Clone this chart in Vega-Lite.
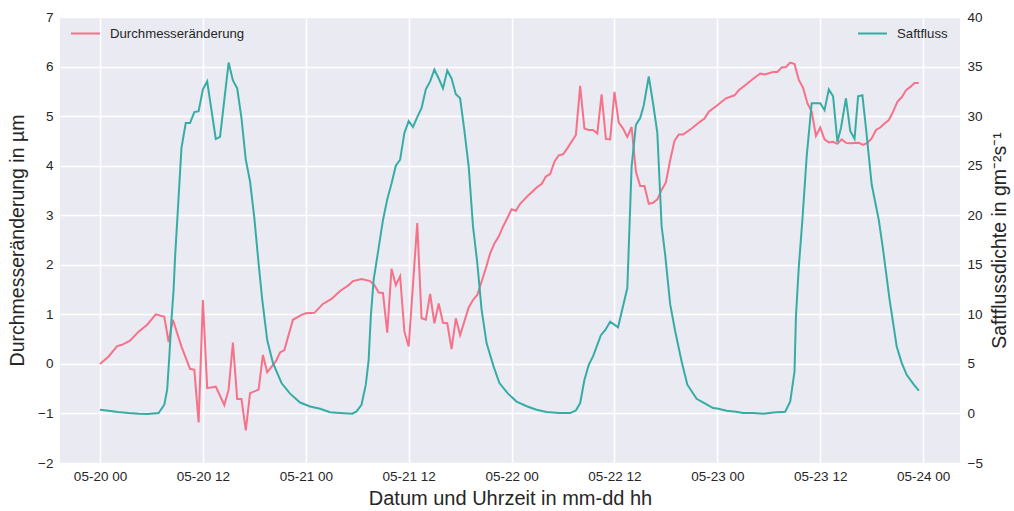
{
  "$schema": "https://vega.github.io/schema/vega-lite/v6.json",
  "width": 900,
  "height": 446,
  "autosize": {"type": "none"},
  "padding": {"left": 60, "top": 17, "right": 54, "bottom": 48},
  "background": "white",
  "datasets": {
    "durchmesser": [
      {"t": "2023-05-20T00:00", "v": 0.0},
      {"t": "2023-05-20T01:00", "v": 0.15},
      {"t": "2023-05-20T02:00", "v": 0.36},
      {"t": "2023-05-20T02:30", "v": 0.38},
      {"t": "2023-05-20T03:30", "v": 0.47},
      {"t": "2023-05-20T04:30", "v": 0.65},
      {"t": "2023-05-20T05:30", "v": 0.79},
      {"t": "2023-05-20T06:30", "v": 1.0},
      {"t": "2023-05-20T07:30", "v": 0.95},
      {"t": "2023-05-20T08:00", "v": 0.44},
      {"t": "2023-05-20T08:30", "v": 0.89},
      {"t": "2023-05-20T09:30", "v": 0.35},
      {"t": "2023-05-20T10:30", "v": -0.1},
      {"t": "2023-05-20T11:00", "v": -0.12},
      {"t": "2023-05-20T11:30", "v": -1.18},
      {"t": "2023-05-20T12:00", "v": 1.29},
      {"t": "2023-05-20T12:30", "v": -0.49},
      {"t": "2023-05-20T13:30", "v": -0.46},
      {"t": "2023-05-20T14:30", "v": -0.83},
      {"t": "2023-05-20T15:00", "v": -0.52},
      {"t": "2023-05-20T15:30", "v": 0.43},
      {"t": "2023-05-20T16:00", "v": -0.71},
      {"t": "2023-05-20T16:30", "v": -0.71},
      {"t": "2023-05-20T17:00", "v": -1.34},
      {"t": "2023-05-20T17:30", "v": -0.59},
      {"t": "2023-05-20T18:30", "v": -0.52},
      {"t": "2023-05-20T19:00", "v": 0.18},
      {"t": "2023-05-20T19:30", "v": -0.17},
      {"t": "2023-05-20T20:30", "v": 0.05},
      {"t": "2023-05-20T21:00", "v": 0.23},
      {"t": "2023-05-20T21:30", "v": 0.28},
      {"t": "2023-05-20T22:30", "v": 0.89},
      {"t": "2023-05-20T23:30", "v": 0.99},
      {"t": "2023-05-21T00:00", "v": 1.02},
      {"t": "2023-05-21T01:00", "v": 1.03},
      {"t": "2023-05-21T02:00", "v": 1.21},
      {"t": "2023-05-21T03:00", "v": 1.31},
      {"t": "2023-05-21T04:00", "v": 1.47},
      {"t": "2023-05-21T05:00", "v": 1.59},
      {"t": "2023-05-21T05:30", "v": 1.67},
      {"t": "2023-05-21T06:30", "v": 1.71},
      {"t": "2023-05-21T07:30", "v": 1.67},
      {"t": "2023-05-21T08:00", "v": 1.59},
      {"t": "2023-05-21T08:30", "v": 1.44},
      {"t": "2023-05-21T09:00", "v": 1.43},
      {"t": "2023-05-21T09:30", "v": 0.63},
      {"t": "2023-05-21T10:00", "v": 1.92},
      {"t": "2023-05-21T10:30", "v": 1.59},
      {"t": "2023-05-21T11:00", "v": 1.77},
      {"t": "2023-05-21T11:30", "v": 0.65},
      {"t": "2023-05-21T12:00", "v": 0.35},
      {"t": "2023-05-21T13:00", "v": 2.84},
      {"t": "2023-05-21T13:30", "v": 0.92},
      {"t": "2023-05-21T14:00", "v": 0.89},
      {"t": "2023-05-21T14:30", "v": 1.41},
      {"t": "2023-05-21T15:00", "v": 0.82},
      {"t": "2023-05-21T15:30", "v": 1.22},
      {"t": "2023-05-21T16:00", "v": 0.83},
      {"t": "2023-05-21T16:30", "v": 0.82},
      {"t": "2023-05-21T17:00", "v": 0.3},
      {"t": "2023-05-21T17:30", "v": 0.92},
      {"t": "2023-05-21T18:00", "v": 0.58},
      {"t": "2023-05-21T19:00", "v": 1.14},
      {"t": "2023-05-21T19:30", "v": 1.29},
      {"t": "2023-05-21T20:00", "v": 1.39},
      {"t": "2023-05-21T21:00", "v": 1.93},
      {"t": "2023-05-21T21:30", "v": 2.23},
      {"t": "2023-05-21T22:00", "v": 2.43},
      {"t": "2023-05-21T22:30", "v": 2.57},
      {"t": "2023-05-21T23:00", "v": 2.77},
      {"t": "2023-05-21T23:30", "v": 2.94},
      {"t": "2023-05-22T00:00", "v": 3.12},
      {"t": "2023-05-22T00:30", "v": 3.09},
      {"t": "2023-05-22T01:00", "v": 3.23},
      {"t": "2023-05-22T02:00", "v": 3.41},
      {"t": "2023-05-22T03:00", "v": 3.57},
      {"t": "2023-05-22T03:30", "v": 3.63},
      {"t": "2023-05-22T04:00", "v": 3.78},
      {"t": "2023-05-22T04:30", "v": 3.83},
      {"t": "2023-05-22T05:00", "v": 4.08},
      {"t": "2023-05-22T05:30", "v": 4.21},
      {"t": "2023-05-22T06:00", "v": 4.23},
      {"t": "2023-05-22T06:30", "v": 4.35},
      {"t": "2023-05-22T07:30", "v": 4.62},
      {"t": "2023-05-22T08:00", "v": 5.61},
      {"t": "2023-05-22T08:30", "v": 4.75},
      {"t": "2023-05-22T09:00", "v": 4.72},
      {"t": "2023-05-22T09:30", "v": 4.72},
      {"t": "2023-05-22T10:00", "v": 4.65},
      {"t": "2023-05-22T10:30", "v": 5.44},
      {"t": "2023-05-22T11:00", "v": 4.54},
      {"t": "2023-05-22T11:30", "v": 4.53},
      {"t": "2023-05-22T12:00", "v": 5.49},
      {"t": "2023-05-22T12:30", "v": 4.87},
      {"t": "2023-05-22T13:00", "v": 4.75},
      {"t": "2023-05-22T13:30", "v": 4.58},
      {"t": "2023-05-22T14:00", "v": 4.78},
      {"t": "2023-05-22T14:30", "v": 3.88},
      {"t": "2023-05-22T15:00", "v": 3.59},
      {"t": "2023-05-22T15:30", "v": 3.59},
      {"t": "2023-05-22T16:00", "v": 3.23},
      {"t": "2023-05-22T16:30", "v": 3.25},
      {"t": "2023-05-22T17:00", "v": 3.32},
      {"t": "2023-05-22T17:30", "v": 3.51},
      {"t": "2023-05-22T18:00", "v": 3.66},
      {"t": "2023-05-22T18:30", "v": 4.11},
      {"t": "2023-05-22T19:00", "v": 4.5},
      {"t": "2023-05-22T19:30", "v": 4.63},
      {"t": "2023-05-22T20:00", "v": 4.63},
      {"t": "2023-05-22T21:00", "v": 4.75},
      {"t": "2023-05-22T22:00", "v": 4.89},
      {"t": "2023-05-22T22:30", "v": 4.95},
      {"t": "2023-05-22T23:00", "v": 5.09},
      {"t": "2023-05-23T00:00", "v": 5.22},
      {"t": "2023-05-23T01:00", "v": 5.36},
      {"t": "2023-05-23T02:00", "v": 5.42},
      {"t": "2023-05-23T02:30", "v": 5.52},
      {"t": "2023-05-23T03:30", "v": 5.66},
      {"t": "2023-05-23T04:00", "v": 5.73},
      {"t": "2023-05-23T05:00", "v": 5.86},
      {"t": "2023-05-23T05:30", "v": 5.84},
      {"t": "2023-05-23T06:30", "v": 5.89},
      {"t": "2023-05-23T07:00", "v": 5.89},
      {"t": "2023-05-23T07:30", "v": 5.98},
      {"t": "2023-05-23T08:00", "v": 5.99},
      {"t": "2023-05-23T08:30", "v": 6.08},
      {"t": "2023-05-23T09:00", "v": 6.05},
      {"t": "2023-05-23T09:30", "v": 5.73},
      {"t": "2023-05-23T10:00", "v": 5.57},
      {"t": "2023-05-23T10:30", "v": 5.26},
      {"t": "2023-05-23T11:00", "v": 5.09},
      {"t": "2023-05-23T11:30", "v": 4.6},
      {"t": "2023-05-23T12:00", "v": 4.77},
      {"t": "2023-05-23T12:30", "v": 4.53},
      {"t": "2023-05-23T13:00", "v": 4.47},
      {"t": "2023-05-23T13:30", "v": 4.48},
      {"t": "2023-05-23T14:00", "v": 4.44},
      {"t": "2023-05-23T14:30", "v": 4.53},
      {"t": "2023-05-23T15:00", "v": 4.46},
      {"t": "2023-05-23T15:30", "v": 4.45},
      {"t": "2023-05-23T16:30", "v": 4.46},
      {"t": "2023-05-23T17:00", "v": 4.42},
      {"t": "2023-05-23T17:30", "v": 4.46},
      {"t": "2023-05-23T18:00", "v": 4.55},
      {"t": "2023-05-23T18:30", "v": 4.72},
      {"t": "2023-05-23T19:00", "v": 4.77},
      {"t": "2023-05-23T19:30", "v": 4.85},
      {"t": "2023-05-23T20:00", "v": 4.92},
      {"t": "2023-05-23T20:30", "v": 5.09},
      {"t": "2023-05-23T21:00", "v": 5.29},
      {"t": "2023-05-23T21:30", "v": 5.38},
      {"t": "2023-05-23T22:00", "v": 5.52},
      {"t": "2023-05-23T22:30", "v": 5.59},
      {"t": "2023-05-23T23:00", "v": 5.67},
      {"t": "2023-05-23T23:30", "v": 5.67}
    ],
    "saftfluss": [
      {"t": "2023-05-20T00:00", "v": 0.37},
      {"t": "2023-05-20T01:00", "v": 0.27},
      {"t": "2023-05-20T02:05", "v": 0.14},
      {"t": "2023-05-20T03:20", "v": 0.04},
      {"t": "2023-05-20T04:30", "v": -0.03},
      {"t": "2023-05-20T05:35", "v": -0.06},
      {"t": "2023-05-20T06:50", "v": 0.04},
      {"t": "2023-05-20T07:30", "v": 0.88},
      {"t": "2023-05-20T07:50", "v": 2.4},
      {"t": "2023-05-20T08:05", "v": 5.75},
      {"t": "2023-05-20T08:20", "v": 9.46},
      {"t": "2023-05-20T08:35", "v": 12.5},
      {"t": "2023-05-20T08:45", "v": 15.7},
      {"t": "2023-05-20T09:05", "v": 20.6},
      {"t": "2023-05-20T09:30", "v": 26.8},
      {"t": "2023-05-20T10:00", "v": 29.3},
      {"t": "2023-05-20T10:30", "v": 29.3},
      {"t": "2023-05-20T11:00", "v": 30.4},
      {"t": "2023-05-20T11:30", "v": 30.5},
      {"t": "2023-05-20T12:00", "v": 32.7},
      {"t": "2023-05-20T12:30", "v": 33.5},
      {"t": "2023-05-20T13:30", "v": 27.7},
      {"t": "2023-05-20T14:00", "v": 27.9},
      {"t": "2023-05-20T15:00", "v": 35.4},
      {"t": "2023-05-20T15:30", "v": 33.6},
      {"t": "2023-05-20T16:00", "v": 32.8},
      {"t": "2023-05-20T16:30", "v": 29.8},
      {"t": "2023-05-20T17:00", "v": 25.6},
      {"t": "2023-05-20T17:30", "v": 23.4},
      {"t": "2023-05-20T18:00", "v": 19.7},
      {"t": "2023-05-20T18:30", "v": 15.1},
      {"t": "2023-05-20T18:55", "v": 11.5},
      {"t": "2023-05-20T19:30", "v": 7.4},
      {"t": "2023-05-20T20:10", "v": 5.1},
      {"t": "2023-05-20T21:10", "v": 3.07},
      {"t": "2023-05-20T22:10", "v": 2.0},
      {"t": "2023-05-20T23:20", "v": 1.1},
      {"t": "2023-05-21T00:30", "v": 0.7},
      {"t": "2023-05-21T01:40", "v": 0.47},
      {"t": "2023-05-21T02:50", "v": 0.12},
      {"t": "2023-05-21T04:00", "v": 0.04},
      {"t": "2023-05-21T05:25", "v": -0.03},
      {"t": "2023-05-21T05:55", "v": 0.2},
      {"t": "2023-05-21T06:30", "v": 0.88},
      {"t": "2023-05-21T07:00", "v": 2.9},
      {"t": "2023-05-21T07:20", "v": 5.4},
      {"t": "2023-05-21T07:35", "v": 9.8},
      {"t": "2023-05-21T07:55", "v": 13.5},
      {"t": "2023-05-21T08:20", "v": 15.8},
      {"t": "2023-05-21T09:00", "v": 19.5},
      {"t": "2023-05-21T09:30", "v": 21.6},
      {"t": "2023-05-21T10:00", "v": 23.2},
      {"t": "2023-05-21T10:30", "v": 25.0},
      {"t": "2023-05-21T11:00", "v": 25.6},
      {"t": "2023-05-21T11:30", "v": 28.3},
      {"t": "2023-05-21T12:00", "v": 29.5},
      {"t": "2023-05-21T12:30", "v": 28.9},
      {"t": "2023-05-21T13:00", "v": 29.9},
      {"t": "2023-05-21T13:30", "v": 30.8},
      {"t": "2023-05-21T14:00", "v": 32.7},
      {"t": "2023-05-21T14:30", "v": 33.5},
      {"t": "2023-05-21T15:00", "v": 34.7},
      {"t": "2023-05-21T15:30", "v": 33.8},
      {"t": "2023-05-21T16:00", "v": 32.8},
      {"t": "2023-05-21T16:30", "v": 34.6},
      {"t": "2023-05-21T17:00", "v": 33.8},
      {"t": "2023-05-21T17:30", "v": 32.2},
      {"t": "2023-05-21T18:00", "v": 31.8},
      {"t": "2023-05-21T18:30", "v": 28.5},
      {"t": "2023-05-21T19:00", "v": 24.9},
      {"t": "2023-05-21T19:30", "v": 18.9},
      {"t": "2023-05-21T20:00", "v": 15.2},
      {"t": "2023-05-21T20:30", "v": 10.5},
      {"t": "2023-05-21T21:05", "v": 7.1},
      {"t": "2023-05-21T21:55", "v": 4.7},
      {"t": "2023-05-21T22:35", "v": 3.07},
      {"t": "2023-05-21T23:35", "v": 2.0},
      {"t": "2023-05-22T00:35", "v": 1.2},
      {"t": "2023-05-22T01:50", "v": 0.7},
      {"t": "2023-05-22T02:55", "v": 0.37},
      {"t": "2023-05-22T04:05", "v": 0.14},
      {"t": "2023-05-22T05:35", "v": 0.04},
      {"t": "2023-05-22T06:50", "v": 0.04},
      {"t": "2023-05-22T07:30", "v": 0.3},
      {"t": "2023-05-22T08:00", "v": 1.05},
      {"t": "2023-05-22T08:30", "v": 3.4},
      {"t": "2023-05-22T09:00", "v": 4.9},
      {"t": "2023-05-22T09:30", "v": 5.75},
      {"t": "2023-05-22T10:25", "v": 7.9},
      {"t": "2023-05-22T10:55", "v": 8.4},
      {"t": "2023-05-22T11:30", "v": 9.25},
      {"t": "2023-05-22T12:25", "v": 8.7},
      {"t": "2023-05-22T13:30", "v": 12.65},
      {"t": "2023-05-22T14:00", "v": 24.9},
      {"t": "2023-05-22T14:30", "v": 29.1},
      {"t": "2023-05-22T15:00", "v": 29.8},
      {"t": "2023-05-22T15:25", "v": 31.1},
      {"t": "2023-05-22T16:00", "v": 34.0},
      {"t": "2023-05-22T16:30", "v": 31.3},
      {"t": "2023-05-22T17:00", "v": 28.3},
      {"t": "2023-05-22T17:30", "v": 18.9},
      {"t": "2023-05-22T17:55", "v": 16.0},
      {"t": "2023-05-22T18:30", "v": 11.0},
      {"t": "2023-05-22T19:05", "v": 8.3},
      {"t": "2023-05-22T19:50", "v": 5.25},
      {"t": "2023-05-22T20:30", "v": 2.9},
      {"t": "2023-05-22T21:35", "v": 1.48},
      {"t": "2023-05-22T22:35", "v": 0.98},
      {"t": "2023-05-22T23:30", "v": 0.54},
      {"t": "2023-05-23T00:00", "v": 0.5},
      {"t": "2023-05-23T01:05", "v": 0.27},
      {"t": "2023-05-23T02:10", "v": 0.17},
      {"t": "2023-05-23T03:00", "v": 0.04},
      {"t": "2023-05-23T04:10", "v": 0.04},
      {"t": "2023-05-23T05:25", "v": -0.03},
      {"t": "2023-05-23T06:30", "v": 0.1},
      {"t": "2023-05-23T07:55", "v": 0.17},
      {"t": "2023-05-23T08:30", "v": 1.2},
      {"t": "2023-05-23T09:00", "v": 4.24},
      {"t": "2023-05-23T09:10", "v": 9.8},
      {"t": "2023-05-23T09:30", "v": 14.8},
      {"t": "2023-05-23T09:55", "v": 19.5},
      {"t": "2023-05-23T10:25", "v": 25.9},
      {"t": "2023-05-23T11:00", "v": 31.3},
      {"t": "2023-05-23T12:00", "v": 31.3},
      {"t": "2023-05-23T12:30", "v": 30.6},
      {"t": "2023-05-23T13:00", "v": 32.7},
      {"t": "2023-05-23T13:30", "v": 32.0},
      {"t": "2023-05-23T14:00", "v": 27.4},
      {"t": "2023-05-23T14:25", "v": 28.8},
      {"t": "2023-05-23T15:00", "v": 31.8},
      {"t": "2023-05-23T15:30", "v": 28.5},
      {"t": "2023-05-23T16:00", "v": 27.7},
      {"t": "2023-05-23T16:25", "v": 32.0},
      {"t": "2023-05-23T16:55", "v": 32.1},
      {"t": "2023-05-23T17:25", "v": 28.1},
      {"t": "2023-05-23T18:00", "v": 23.1},
      {"t": "2023-05-23T18:50", "v": 19.5},
      {"t": "2023-05-23T19:20", "v": 16.5},
      {"t": "2023-05-23T20:05", "v": 11.5},
      {"t": "2023-05-23T20:55", "v": 6.76},
      {"t": "2023-05-23T21:30", "v": 5.1},
      {"t": "2023-05-23T22:05", "v": 3.9},
      {"t": "2023-05-23T22:55", "v": 2.9},
      {"t": "2023-05-23T23:30", "v": 2.3}
    ]
  },
  "layer": [
    {
      "data": {"name": "durchmesser"},
      "mark": {"type": "line", "strokeWidth": 2, "clip": true},
      "encoding": {
        "x": {
          "field": "t",
          "type": "temporal",
          "scale": {
            "domain": [
              {"year": 2023, "month": "may", "date": 19, "hours": 19, "minutes": 20},
              {"year": 2023, "month": "may", "date": 24, "hours": 4, "minutes": 18}
            ]
          },
          "axis": {
            "format": "%m-%d %H",
            "values": [
              {"year": 2023, "month": "may", "date": 20, "hours": 0},
              {"year": 2023, "month": "may", "date": 20, "hours": 12},
              {"year": 2023, "month": "may", "date": 21, "hours": 0},
              {"year": 2023, "month": "may", "date": 21, "hours": 12},
              {"year": 2023, "month": "may", "date": 22, "hours": 0},
              {"year": 2023, "month": "may", "date": 22, "hours": 12},
              {"year": 2023, "month": "may", "date": 23, "hours": 0},
              {"year": 2023, "month": "may", "date": 23, "hours": 12},
              {"year": 2023, "month": "may", "date": 24, "hours": 0}
            ],
            "labelPadding": 6,
            "title": "Datum und Uhrzeit in mm-dd hh",
            "titleFontSize": 20,
            "titlePadding": 6
          }
        },
        "y": {
          "field": "v",
          "type": "quantitative",
          "scale": {"domain": [-2, 7], "nice": false, "zero": false},
          "axis": {
            "orient": "left",
            "values": [-2, -1, 0, 1, 2, 3, 4, 5, 6, 7],
            "format": "d",
            "labelPadding": 7,
            "title": "Durchmesseränderung in µm",
            "titlePadding": 10
          }
        },
        "color": {
          "datum": "Durchmesseränderung",
          "scale": {"range": ["#f77189"]},
          "legend": {"orient": "none", "legendX": 10, "legendY": 1, "title": null}
        }
      }
    },
    {
      "data": {"name": "saftfluss"},
      "mark": {"type": "line", "strokeWidth": 2, "clip": true},
      "encoding": {
        "x": {"field": "t", "type": "temporal"},
        "y": {
          "field": "v",
          "type": "quantitative",
          "scale": {"domain": [-5, 40], "nice": false, "zero": false},
          "axis": {
            "orient": "right",
            "values": [-5, 0, 5, 10, 15, 20, 25, 30, 35, 40],
            "format": "d",
            "grid": false,
            "labelPadding": 7,
            "title": "Saftflussdichte in gm⁻²s⁻¹",
            "titleAngle": 270,
            "titleBaseline": "top",
            "titlePadding": 8
          }
        },
        "color": {
          "datum": "Saftfluss",
          "scale": {"range": ["#36ada4"]},
          "legend": {"orient": "none", "legendX": 797, "legendY": 1, "title": null}
        }
      }
    }
  ],
  "resolve": {"scale": {"y": "independent", "color": "independent"}},
  "config": {
    "view": {"stroke": null, "fill": "#eaeaf2"},
    "axis": {
      "domain": false,
      "ticks": false,
      "gridColor": "#ffffff",
      "gridWidth": 1.5,
      "gridOpacity": 1,
      "labelFont": "Liberation Sans",
      "labelFontSize": 13.5,
      "labelColor": "#262626",
      "titleFont": "Liberation Sans",
      "titleFontSize": 19.5,
      "titleFontWeight": "normal",
      "titleColor": "#262626"
    },
    "legend": {
      "symbolType": "stroke",
      "symbolSize": 841,
      "symbolStrokeWidth": 2,
      "labelFont": "Liberation Sans",
      "labelFontSize": 13.2,
      "labelColor": "#262626",
      "labelOffset": 9,
      "padding": 0
    }
  }
}
